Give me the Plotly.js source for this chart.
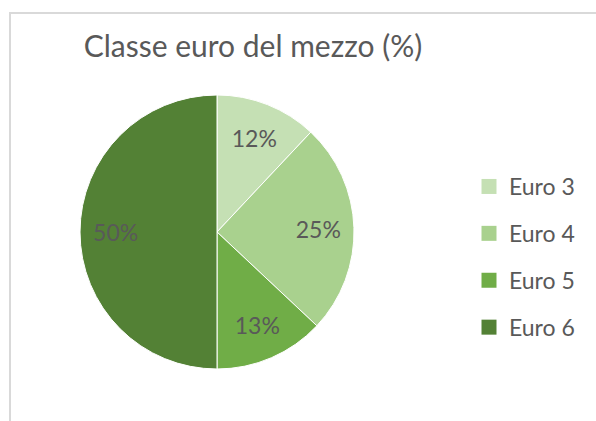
<!DOCTYPE html>
<html>
<head>
<meta charset="utf-8">
<script src="https://cdn.plot.ly/plotly-3.0.1.min.js"></script>
<style>
html,body{margin:0;padding:0;background:#fff;}
#chart{width:596px;height:421px;}
</style>
</head>
<body>
<div id="chart"></div>
<script>
var categories = ["Euro 3", "Euro 4", "Euro 5", "Euro 6"];
var values = [12, 25, 13, 50];
var colors = ["#c5e0b4", "#a9d18e", "#70ad47", "#538135"];
var titleText = "Classe euro del mezzo (%)";

var W = 596, H = 421;
var FONT = "Lato, 'Noto Sans', sans-serif";
var TXT = "#595959";
var pieDomain = {x: [80 / W, 354 / W], y: [52 / H, 326 / H]};

var traces = [{
  // the coloured slices
  type: "pie",
  labels: categories,
  values: values,
  sort: false,
  direction: "clockwise",
  rotation: 0,
  marker: {colors: colors, line: {color: "#ffffff", width: 1}},
  textinfo: "none",
  hoverinfo: "label+percent",
  showlegend: false,
  domain: pieDomain
}, {
  // transparent ring carrying the data labels at ~3/4 of the radius
  type: "pie",
  labels: categories,
  values: values,
  sort: false,
  direction: "clockwise",
  rotation: 0,
  hole: 0.48,
  marker: {colors: categories.map(function () { return "rgba(0,0,0,0)"; }), line: {width: 0}},
  texttemplate: "%{value}%",
  textposition: "inside",
  insidetextorientation: "horizontal",
  textfont: {family: FONT, size: 23, color: TXT},
  hoverinfo: "skip",
  showlegend: false,
  domain: pieDomain
}];

categories.forEach(function (c, i) {
  traces.push({
    type: "scatter",
    mode: "markers",
    x: [null], y: [null],
    name: c,
    legendgroup: "g" + i,
    showlegend: true,
    marker: {symbol: "square", size: 15, color: colors[i]},
    hoverinfo: "skip"
  });
});

var layout = {
  width: W, height: H,
  margin: {l: 0, r: 0, t: 0, b: 0},
  paper_bgcolor: "#ffffff",
  plot_bgcolor: "rgba(0,0,0,0)",
  title: {
    text: titleText,
    font: {family: FONT, size: 30, color: TXT},
    x: 253 / W, xanchor: "center", xref: "paper",
    y: 1 - 46 / H, yanchor: "middle", yref: "paper"
  },
  xaxis: {visible: false, domain: [0.99, 1]},
  yaxis: {visible: false, domain: [0.99, 1]},
  showlegend: true,
  legend: {
    x: 469 / W, xanchor: "left",
    y: 1 - 165 / H, yanchor: "top",
    font: {family: FONT, size: 23, color: TXT},
    tracegroupgap: 14,
    itemsizing: "trace",
    bgcolor: "rgba(0,0,0,0)"
  },
  shapes: [{
    type: "path", xref: "paper", yref: "paper",
    path: "M " + (10 / W) + " 0 L " + (10 / W) + " " + (1 - 13 / H) + " L 1 " + (1 - 13 / H),
    line: {color: "#d9d9d9", width: 2}
  }]
};

Plotly.newPlot("chart", traces, layout, {displayModeBar: false, staticPlot: true});
</script>
</body>
</html>
